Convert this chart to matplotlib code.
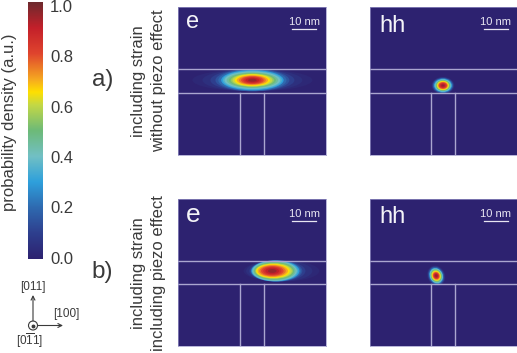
import numpy as np
import matplotlib
matplotlib.use('Agg')
import matplotlib.pyplot as plt
from matplotlib.colors import LinearSegmentedColormap
from matplotlib.patches import Ellipse, Circle

plt.rcParams['font.family'] = ['Liberation Sans', 'DejaVu Sans']
plt.rcParams['mathtext.fontset'] = 'custom'
plt.rcParams['mathtext.rm'] = 'Liberation Sans'

W, H = 517, 353

# colour scale
cmap_pos = [0.0, 0.1, 0.2, 0.3, 0.4, 0.5, 0.6, 0.65, 0.7, 0.8, 0.9, 1.0]
cmap_col = ['#2d2270', '#2e3f8e', '#2f6ab0', '#2ea0dc', '#72c0c4', '#6dba78',
            '#c4d845', '#ffe000', '#f6a821', '#e0452e', '#c4202a', '#6e2a2e']

tick_vals = [0.0, 0.2, 0.4, 0.6, 0.8, 1.0]

# density contours, all in nm
levels = [0.02, 0.05, 0.1, 0.15, 0.2, 0.3, 0.35, 0.4, 0.45, 0.5, 0.55, 0.6, 0.65, 0.7, 0.75, 0.8, 0.85, 0.9, 0.95]

ea_cx, ea_cy = 31.0, 30.5
ea_rx = [25, 20.8, 17.5, 15.4, 14.2, 13, 12.3, 11.6, 10.7, 9.8, 9, 8.3, 7.4, 6.5, 5.6, 4.7, 3.8, 2.9, 1.8]
ea_ry = [4.6, 4.6, 4.6, 4.6, 4.5, 4.2, 3.9, 3.6, 3.3, 3.0, 2.8, 2.6, 2.4, 2.1, 1.8, 1.6, 1.3, 1.0, 0.6]

ha_cx, ha_cy = 30.6, 32.7
ha_rx = [4.8, 4.6, 4.4, 4.2, 4, 3.7, 3.5, 3.3, 3.1, 2.9, 2.7, 2.5, 2.3, 2.1, 1.9, 1.7, 1.4, 1.0, 0.6]
ha_ry = [3.6, 3.5, 3.3, 3.1, 3, 2.8, 2.6, 2.5, 2.3, 2.2, 2.0, 1.9, 1.8, 1.6, 1.4, 1.3, 1, 0.8, 0.4]

eb_cx, eb_cy = 39.3, 30.1
eb_rx = [15.8, 13.8, 11.7, 10.8, 10.4, 10, 9.6, 9.2, 8.8, 8.3, 7.9, 7.5, 7.0, 6.3, 5.5, 4.7, 3.8, 2.9, 1.8]
eb_ry = [4.4, 4.4, 4.4, 4.4, 4.4, 4.3, 4.2, 4.1, 3.9, 3.6, 3.3, 3.1, 2.9, 2.6, 2.3, 2.0, 1.7, 1.3, 0.8]
eb_off = [3.8, 2.9, 2.1, 1.7, 1.5, 1.3, 1.1, 1, 0.9, 0.8, 0.7, 0.6, 0.3, 0.2, 0.1, 0, 0, 0, 0]

hb_cx, hb_cy = 27.8, 32.1
hb_rx = [3.7, 3.5, 3.3, 3.1, 2.9, 2.7, 2.6, 2.5, 2.3, 2.2, 2.0, 1.9, 1.7, 1.5, 1.4, 1.2, 1, 0.8, 0.5]
hb_ry = [4.4, 4.2, 4, 3.8, 3.5, 3.3, 3.2, 3.0, 2.8, 2.6, 2.4, 2.2, 2.0, 1.8, 1.6, 1.4, 1.2, 0.9, 0.6]

# dot geometry in nm
panel_size = 61.5
layer_y = [25.8, 35.7]
wire_x = [25.8, 35.7]

BG = '#2d2270'
LINE = '#aaa6d0'
TXT = '#3a3a3a'

cmap = LinearSegmentedColormap.from_list('dens', list(zip(cmap_pos, cmap_col)))

fig = plt.figure(figsize=(W / 100, H / 100), dpi=100)


def px_axes(x0, y0, x1, y1):
    return fig.add_axes([x0 / W, 1 - y1 / H, (x1 - x0) / W, (y1 - y0) / H])


def panel(x0, y0, label, lx, ly, lsize, cx, cy, rx, ry, off=None, angle=0):
    ax = px_axes(x0, y0, x0 + 147.6, y0 + 147.6)
    ax.set_xlim(0, panel_size)
    ax.set_ylim(panel_size, 0)
    ax.set_facecolor(BG)
    ax.set_xticks([])
    ax.set_yticks([])
    for s in ax.spines.values():
        s.set_color('#9a96c8')
        s.set_linewidth(0.5)
    if off is None:
        off = [0] * len(levels)
    for lev, a, b, d in zip(levels, rx, ry, off):
        ax.add_patch(Ellipse((cx + d, cy), 2 * a, 2 * b, angle=angle,
                             facecolor=cmap(lev), edgecolor='none'))
    for y in layer_y:
        ax.plot([0, panel_size], [y, y], color=LINE, lw=1.0)
    for x in wire_x:
        ax.plot([x, x], [layer_y[1], panel_size], color=LINE, lw=1.0)
    # scale bar, 10 nm long
    ax.plot([47.5, 57.5], [9.2, 9.2], color='#e8e6f2', lw=0.9)
    ax.text(52.5, 6.3, '10 nm', color='#e8e6f2', fontsize=8, ha='center', va='center')
    ax.text(lx, ly, label, color='#f4f4f8', fontsize=lsize, ha='left', va='baseline')
    return ax


panel(178, 7, 'e', 3.4, 8.8, 17, ea_cx, ea_cy, ea_rx, ea_ry)
panel(369.5, 7, 'hh', 4.0, 10.3, 17, ha_cx, ha_cy, ha_rx, ha_ry)
panel(178, 198.7, 'e', 3.4, 9.7, 19, eb_cx, eb_cy, eb_rx, eb_ry, off=eb_off)
panel(369.5, 198.7, 'hh', 4.0, 10.2, 17, hb_cx, hb_cy, hb_rx, hb_ry, angle=-25)

# colour bar
cax = px_axes(28, 2, 42, 259)
grad = np.linspace(0, 1, 256).reshape(-1, 1)
lo, hi = -0.004, 1.014
cax.imshow(grad, cmap=cmap, aspect='auto', origin='lower', extent=[0, 1, lo, hi])
cax.set_xlim(0, 1)
cax.set_ylim(lo, hi)
cax.set_xticks([])
cax.yaxis.tick_right()
cax.set_yticks(tick_vals)
cax.set_yticklabels(['%.1f' % v for v in tick_vals], fontsize=12, color=TXT)
cax.tick_params(axis='y', length=0, pad=5.8)
for s in cax.spines.values():
    s.set_visible(False)

# overlay in reference pixels for free text and the direction symbol
ov = fig.add_axes([0, 0, 1, 1])
ov.set_xlim(0, W)
ov.set_ylim(H, 0)
ov.axis('off')
ov.patch.set_alpha(0)

ov.text(9.5, 122, 'probability density (a.u.)', rotation=90, fontsize=12, color=TXT,
        ha='center', va='center')
ov.text(102.5, 80, 'a)', fontsize=17.5, color=TXT, ha='center', va='center')
ov.text(102.5, 272, 'b)', fontsize=17.5, color=TXT, ha='center', va='center')
ov.text(139, 81, 'including strain', rotation=90, fontsize=12, color=TXT, ha='center', va='center')
ov.text(159, 81, 'without piezo effect', rotation=90, fontsize=12, color=TXT, ha='center', va='center')
ov.text(139, 273, 'including strain', rotation=90, fontsize=12, color=TXT, ha='center', va='center')
ov.text(159, 273, 'including piezo effect', rotation=90, fontsize=12, color=TXT, ha='center', va='center')

ox, oy = 33, 325.5
arrow = dict(arrowstyle='->', color=TXT, lw=0.8, shrinkA=0, shrinkB=0, mutation_scale=7)
ov.annotate('', xy=(ox, 295), xytext=(ox, oy - 4.5), arrowprops=arrow)
ov.annotate('', xy=(63, oy), xytext=(ox + 4.5, oy), arrowprops=arrow)
ov.add_patch(Circle((ox, oy), 4.5, facecolor='white', edgecolor=TXT, lw=0.8))
ov.plot([ox], [oy], 'o', color=TXT, ms=1.8)
ov.text(33, 287, '[011]', fontsize=8.5, color=TXT, ha='center', va='center')
ov.text(66, 314, '[100]', fontsize=8.5, color=TXT, ha='center', va='center')
ov.text(30, 341, r'[0$\mathrm{\overline{1}}$1]', fontsize=8.5, color=TXT, ha='center', va='center')

fig.savefig('out.png', dpi=100)
